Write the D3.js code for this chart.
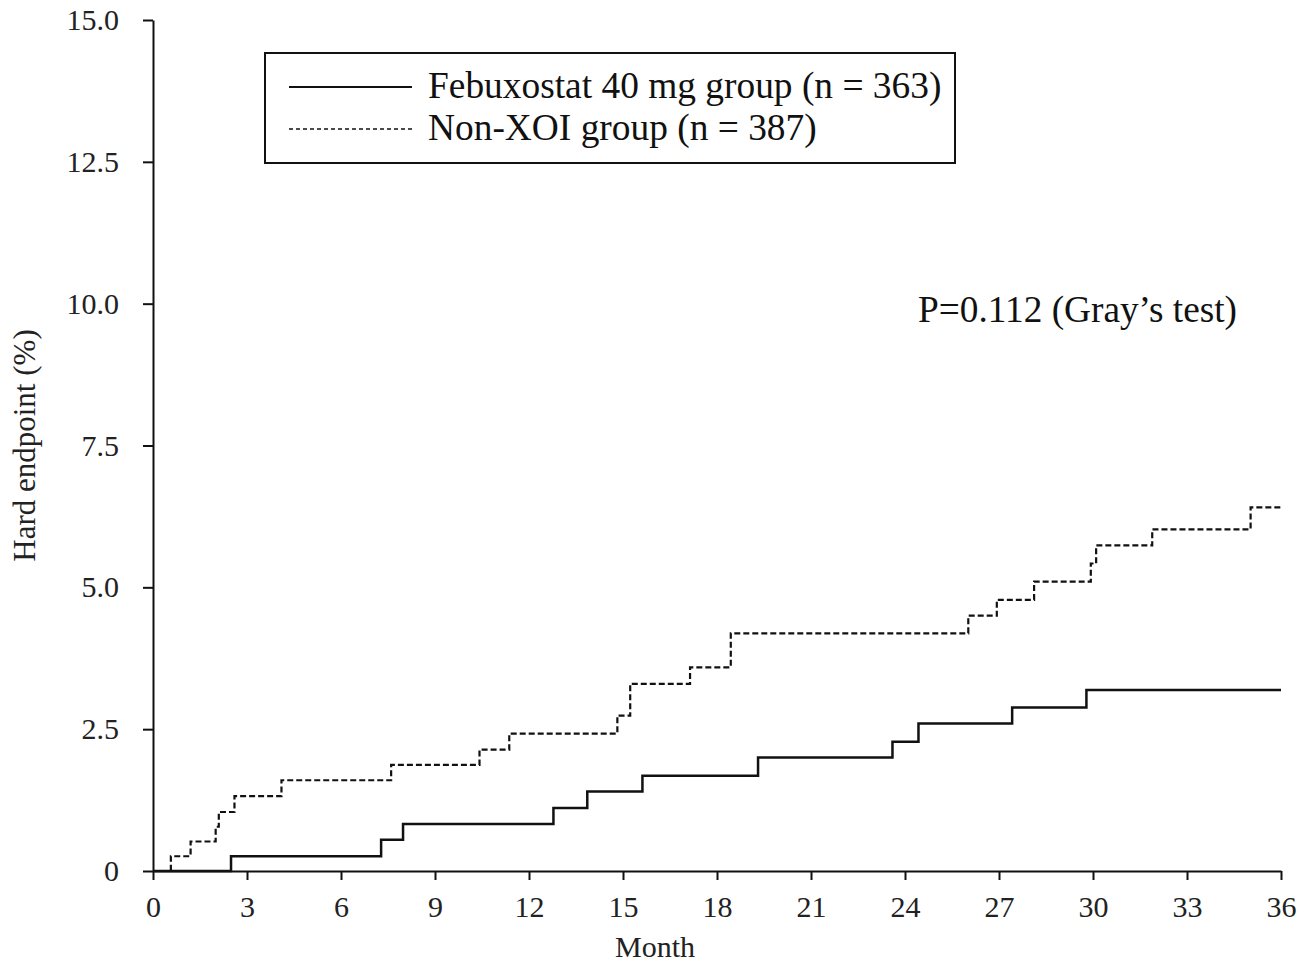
<!DOCTYPE html>
<html>
<head>
<meta charset="utf-8">
<script src="https://cdn.jsdelivr.net/npm/d3@7"></script>
<style>
  body { margin: 0; background: #fff; }
  svg { display: block; font-family: "Liberation Serif", "Times New Roman", serif; }
</style>
</head>
<body>
<div class="container"></div>
<script>
// step data (month, %)
const febuxMonths = [0, 2.49, 7.28, 7.98, 12.78, 13.86, 15.62, 19.31, 23.6, 24.43, 27.42, 29.79, 36];
const febuxValues = [0, 0.26, 0.55, 0.83, 1.11, 1.40, 1.68, 2.00, 2.28, 2.60, 2.88, 3.19, 3.19];

const nonXoiMonths = [0, 0.57, 1.2, 2.0, 2.1, 2.6, 4.1, 7.6, 10.42, 11.37, 14.82, 15.23, 17.14, 18.44, 26.02, 26.93, 28.12, 29.93, 30.1, 31.89, 35.03, 36];
const nonXoiValues = [0, 0.26, 0.52, 0.78, 1.04, 1.32, 1.60, 1.87, 2.14, 2.42, 2.74, 3.30, 3.59, 4.19, 4.50, 4.78, 5.10, 5.42, 5.74, 6.02, 6.41, 6.41];

const xTicks = [0, 3, 6, 9, 12, 15, 18, 21, 24, 27, 30, 33, 36];
const yTicks = [0, 2.5, 5, 7.5, 10, 12.5, 15];

const seriesNames = ["Febuxostat 40 mg group (n = 363)", "Non-XOI group (n = 387)"];
const pText = "P=0.112 (Gray\u2019s test)";

const w = 1305;
const h = 967;
const margin = { top: 20, right: 24, bottom: 96, left: 153 };

const svg = d3.select(".container")
    .append("svg")
    .attr("width", w)
    .attr("height", h);

const xScale = d3.scaleLinear()
    .domain([0, 36])
    .range([margin.left, w - margin.right]);

const yScale = d3.scaleLinear()
    .domain([0, 15])
    .range([h - margin.bottom, margin.top]);

// axes
const xAxis = d3.axisBottom(xScale)
    .tickValues(xTicks)
    .tickSize(9)
    .tickSizeOuter(0)
    .tickPadding(16)
    .tickFormat(d3.format("d"));

const yAxis = d3.axisLeft(yScale)
    .tickValues(yTicks)
    .tickSize(10)
    .tickSizeOuter(0)
    .tickPadding(24)
    .tickFormat(d => d === 0 ? "0" : d3.format(".1f")(d));

const gx = svg.append("g")
    .attr("transform", `translate(0, ${yScale(0)})`)
    .call(xAxis);

const gy = svg.append("g")
    .attr("transform", `translate(${xScale(0)}, 0)`)
    .call(yAxis);

[gx, gy].forEach(g => {
    g.selectAll("path, line").attr("stroke", "#111").attr("stroke-width", 2);
    g.selectAll("text")
        .attr("fill", "#222")
        .style("font-size", "30px")
        .style("font-family", "'Liberation Serif', serif");
});

// axis titles
svg.append("text")
    .attr("x", 655)
    .attr("y", 957)
    .attr("text-anchor", "middle")
    .style("font-size", "30px")
    .attr("fill", "#222")
    .text("Month");

svg.append("text")
    .attr("transform", `translate(35, ${(margin.top + h - margin.bottom) / 2}) rotate(-90)`)
    .attr("text-anchor", "middle")
    .style("font-size", "31px")
    .attr("fill", "#222")
    .text("Hard endpoint (%)");

// step curves
const line = d3.line()
    .x(d => xScale(d[0]))
    .y(d => yScale(d[1]))
    .curve(d3.curveStepAfter);

const febux = febuxMonths.map((m, i) => [m, febuxValues[i]]);
const nonXoi = nonXoiMonths.map((m, i) => [m, nonXoiValues[i]]);

svg.append("path")
    .datum(nonXoi)
    .attr("d", line)
    .attr("fill", "none")
    .attr("stroke", "#111")
    .attr("stroke-width", 2.2)
    .attr("stroke-dasharray", "6,3");

svg.append("path")
    .datum(febux)
    .attr("d", line)
    .attr("fill", "none")
    .attr("stroke", "#111")
    .attr("stroke-width", 2.5);

// legend
const legend = svg.append("g");
legend.append("rect")
    .attr("x", 265)
    .attr("y", 53)
    .attr("width", 690)
    .attr("height", 110)
    .attr("fill", "#fff")
    .attr("stroke", "#111")
    .attr("stroke-width", 2);

const legendRows = [
    { name: seriesNames[0], y: 87, dash: null, width: 1.8 },
    { name: seriesNames[1], y: 129, dash: "4,3", width: 1.3 }
];

legendRows.forEach(r => {
    legend.append("line")
        .attr("x1", 289)
        .attr("x2", 412)
        .attr("y1", r.y)
        .attr("y2", r.y)
        .attr("stroke", "#111")
        .attr("stroke-width", r.width)
        .attr("stroke-dasharray", r.dash);
    legend.append("text")
        .attr("x", 428)
        .attr("y", r.y + 11)
        .style("font-size", "37.4px")
        .attr("fill", "#111")
        .text(r.name);
});

// test annotation
svg.append("text")
    .attr("x", 918)
    .attr("y", 322)
    .style("font-size", "37.3px")
    .attr("fill", "#111")
    .text(pText);
</script>
</body>
</html>
